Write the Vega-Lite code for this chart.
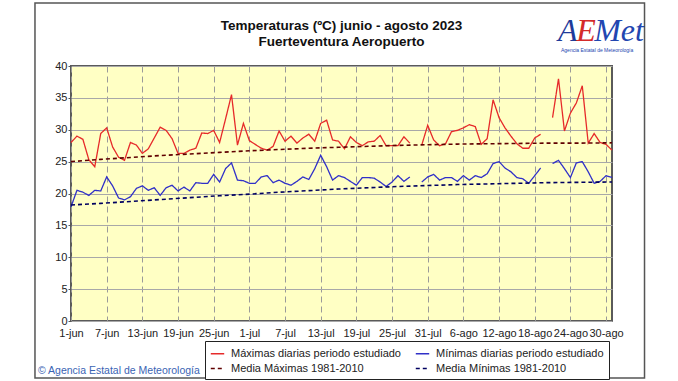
{
  "$schema": "https://vega.github.io/schema/vega-lite/v6.json",
  "width": 541,
  "height": 255,
  "autosize": {"type": "none"},
  "padding": {"left": 71, "top": 66, "right": 66, "bottom": 60},
  "background": "white",
  "config": {
    "font": "Liberation Sans",
    "view": {"fill": "#ffffc4", "stroke": "#5a5a5a", "strokeWidth": 2},
    "axis": {"labelFont": "Liberation Sans", "labelFontSize": 11, "labelColor": "#222222", "domain": false}
  },
  "title": {
    "text": ["Temperaturas (ºC) junio - agosto 2023", "Fuerteventura Aeropuerto"],
    "font": "Liberation Sans",
    "fontSize": 13.5,
    "fontWeight": "bold",
    "color": "#111111",
    "anchor": "middle",
    "frame": "group",
    "offset": -46,
    "lineHeight": 16
  },
  "layer": [
    {
      "data": {"values": [
        {"d":0,"max":28.0,"min":17.9},{"d":1,"max":29.0,"min":20.5},{"d":2,"max":28.5,"min":20.2},{"d":3,"max":25.3,"min":19.7},
        {"d":4,"max":24.2,"min":20.5},{"d":5,"max":29.4,"min":20.4},{"d":6,"max":30.3,"min":22.6},{"d":7,"max":27.3,"min":21.2},
        {"d":8,"max":25.7,"min":19.3},{"d":9,"max":25.2,"min":19.0},{"d":10,"max":28.0,"min":19.5},{"d":11,"max":27.6,"min":20.8},
        {"d":12,"max":26.3,"min":21.2},{"d":13,"max":27.0,"min":20.5},{"d":14,"max":28.7,"min":20.9},{"d":15,"max":30.4,"min":19.7},
        {"d":16,"max":29.9,"min":20.9},{"d":17,"max":28.6,"min":21.3},{"d":18,"max":26.3,"min":20.4},{"d":19,"max":26.3,"min":21.0},
        {"d":20,"max":26.8,"min":20.4},{"d":21,"max":27.1,"min":21.7},{"d":22,"max":29.5,"min":21.6},{"d":23,"max":29.4,"min":21.6},
        {"d":24,"max":29.9,"min":23.0},{"d":25,"max":28.0,"min":21.8},{"d":26,"max":31.7,"min":23.9},{"d":27,"max":35.5,"min":24.8},
        {"d":28,"max":27.6,"min":22.1},{"d":29,"max":31.0,"min":22.0},{"d":30,"max":28.3,"min":21.6},{"d":31,"max":27.7,"min":21.6},
        {"d":32,"max":27.1,"min":22.6},{"d":33,"max":26.8,"min":22.8},{"d":34,"max":27.4,"min":21.7},{"d":35,"max":29.8,"min":22.1},
        {"d":36,"max":28.2,"min":21.6},{"d":37,"max":29.0,"min":21.3},{"d":38,"max":27.9,"min":21.9},{"d":39,"max":28.7,"min":22.6},
        {"d":40,"max":29.3,"min":22.2},{"d":41,"max":28.2,"min":23.9},{"d":42,"max":31.0,"min":26.0},{"d":43,"max":31.5,"min":24.2},
        {"d":44,"max":28.4,"min":22.1},{"d":45,"max":28.2,"min":22.8},{"d":46,"max":27.0,"min":22.5},{"d":47,"max":28.9,"min":21.9},
        {"d":48,"max":28.0,"min":21.3},{"d":49,"max":27.5,"min":22.5},{"d":50,"max":28.1,"min":22.5},{"d":51,"max":28.2,"min":22.4},
        {"d":52,"max":29.1,"min":21.8},{"d":53,"max":27.5,"min":21.1},{"d":54,"max":27.5,"min":21.8},{"d":55,"max":27.5,"min":22.8},
        {"d":56,"max":28.9,"min":21.9},{"d":57,"max":27.9,"min":22.6},{"d":58,"max":null,"min":null},{"d":59,"max":27.6,"min":21.8},
        {"d":60,"max":30.7,"min":22.6},{"d":61,"max":28.4,"min":23.0},{"d":62,"max":27.5,"min":22.1},{"d":63,"max":27.8,"min":22.5},
        {"d":64,"max":29.7,"min":22.5},{"d":65,"max":29.9,"min":21.9},{"d":66,"max":30.3,"min":22.8},{"d":67,"max":30.8,"min":22.1},
        {"d":68,"max":30.5,"min":22.8},{"d":69,"max":27.7,"min":22.5},{"d":70,"max":28.6,"min":23.1},{"d":71,"max":34.7,"min":24.7},
        {"d":72,"max":31.9,"min":25.0},{"d":73,"max":30.3,"min":24.0},{"d":74,"max":29.0,"min":23.4},{"d":75,"max":27.8,"min":22.5},
        {"d":76,"max":27.1,"min":22.3},{"d":77,"max":27.1,"min":21.6},{"d":78,"max":28.7,"min":22.8},{"d":79,"max":29.3,"min":24.0},
        {"d":80,"max":null,"min":null},{"d":81,"max":31.9,"min":24.7},{"d":82,"max":38.0,"min":25.2},{"d":83,"max":29.8,"min":23.9},
        {"d":84,"max":32.6,"min":22.5},{"d":85,"max":34.2,"min":24.8},{"d":86,"max":36.9,"min":25.0},{"d":87,"max":27.9,"min":23.4},
        {"d":88,"max":29.4,"min":21.6},{"d":89,"max":28.0,"min":21.9},{"d":90,"max":27.7,"min":22.8},{"d":91,"max":26.8,"min":22.5}
      ]},
      "transform": [{"fold": ["max", "min"], "as": ["serie", "t"]}],
      "mark": {"type": "line", "strokeWidth": 1.3, "invalid": "break-paths-show-domains"},
      "encoding": {
        "x": {
          "field": "d", "type": "quantitative",
          "scale": {"domain": [0, 91], "nice": false, "zero": false},
          "axis": {
            "title": null,
            "values": [0, 6, 12, 18, 24, 30, 36, 42, 48, 54, 60, 66, 72, 78, 84, 90],
            "tickCount": 16,
            "labelExpr": "['1-jun','7-jun','13-jun','19-jun','25-jun','1-jul','7-jul','13-jul','19-jul','25-jul','31-jul','6-ago','12-ago','18-ago','24-ago','30-ago'][round(datum.value/6)]",
            "ticks": false,
            "labelPadding": 6,
            "labelFlush": false,
            "labelOverlap": false,
            "grid": true,
            "gridColor": "#9a9a9a",
            "gridDash": [6, 4],
            "gridWidth": 1
          }
        },
        "y": {
          "field": "t", "type": "quantitative",
          "scale": {"domain": [0, 40], "nice": false},
          "axis": {
            "title": null,
            "values": [0, 5, 10, 15, 20, 25, 30, 35, 40],
            "tickCount": 9,
            "tickSize": 3,
            "tickColor": "#555555",
            "labelPadding": 1,
            "labelOverlap": false,
            "grid": true,
            "gridColor": "#a8a8a8",
            "gridWidth": 1
          }
        },
        "color": {
          "field": "serie", "type": "nominal",
          "scale": {"domain": ["max", "min", "nmax", "nmin"], "range": ["#e62a2a", "#3030c8", "#600000", "#000060"]},
          "legend": {
            "title": null,
            "orient": "none",
            "legendX": 134,
            "legendY": 275,
            "columns": 2,
            "direction": "horizontal",
            "strokeColor": "#222222",
            "fillColor": "white",
            "padding": 5,
            "columnPadding": 11,
            "rowPadding": 2,
            "labelFont": "Liberation Sans",
            "labelFontSize": 11,
            "labelColor": "#222222",
            "labelLimit": 300,
            "symbolType": "stroke",
            "symbolSize": 180,
            "symbolStrokeWidth": 1.5,
            "labelOffset": 6,
            "labelExpr": "datum.label == 'max' ? 'Máximas diarias periodo estudiado' : datum.label == 'min' ? 'Mínimas diarias periodo estudiado' : datum.label == 'nmax' ? 'Media Máximas 1981-2010' : 'Media Mínimas 1981-2010'"
          }
        },
        "strokeDash": {
          "field": "serie", "type": "nominal",
          "scale": {"domain": ["max", "min", "nmax", "nmin"], "range": [[1, 0], [1, 0], [4, 3], [4, 3]]}
        }
      }
    },
    {
      "data": {"values": [
        {"d":0,"serie":"nmax","t":25.0},{"d":5,"serie":"nmax","t":25.35},{"d":10,"serie":"nmax","t":25.65},{"d":15,"serie":"nmax","t":25.95},
        {"d":20,"serie":"nmax","t":26.2},{"d":25,"serie":"nmax","t":26.45},{"d":30,"serie":"nmax","t":26.7},{"d":35,"serie":"nmax","t":26.9},
        {"d":40,"serie":"nmax","t":27.1},{"d":45,"serie":"nmax","t":27.25},{"d":50,"serie":"nmax","t":27.4},{"d":55,"serie":"nmax","t":27.55},
        {"d":60,"serie":"nmax","t":27.65},{"d":65,"serie":"nmax","t":27.75},{"d":70,"serie":"nmax","t":27.8},{"d":75,"serie":"nmax","t":27.85},
        {"d":80,"serie":"nmax","t":27.9},{"d":85,"serie":"nmax","t":27.9},{"d":91,"serie":"nmax","t":27.95},
        {"d":0,"serie":"nmin","t":18.2},{"d":5,"serie":"nmin","t":18.45},{"d":10,"serie":"nmin","t":18.75},{"d":15,"serie":"nmin","t":19.05},
        {"d":20,"serie":"nmin","t":19.35},{"d":25,"serie":"nmin","t":19.65},{"d":30,"serie":"nmin","t":19.9},{"d":35,"serie":"nmin","t":20.2},
        {"d":40,"serie":"nmin","t":20.45},{"d":45,"serie":"nmin","t":20.7},{"d":50,"serie":"nmin","t":20.9},{"d":55,"serie":"nmin","t":21.1},
        {"d":60,"serie":"nmin","t":21.25},{"d":65,"serie":"nmin","t":21.4},{"d":70,"serie":"nmin","t":21.5},{"d":75,"serie":"nmin","t":21.6},
        {"d":80,"serie":"nmin","t":21.7},{"d":85,"serie":"nmin","t":21.75},{"d":91,"serie":"nmin","t":21.8}
      ]},
      "mark": {"type": "line", "strokeWidth": 1.6},
      "encoding": {
        "x": {"field": "d", "type": "quantitative"},
        "y": {"field": "t", "type": "quantitative"},
        "color": {"field": "serie", "type": "nominal"},
        "strokeDash": {"field": "serie", "type": "nominal"}
      }
    },
    {
      "data": {"values": [{}]},
      "mark": {"type": "rect", "filled": false, "stroke": "#555555", "strokeWidth": 1.5},
      "encoding": {
        "x": {"datum": -6.06, "type": "quantitative"},
        "x2": {"datum": 96.47},
        "y": {"datum": 49.88, "type": "quantitative"},
        "y2": {"datum": -8.94}
      }
    },
    {
      "data": {"values": [{}]},
      "mark": {"type": "text", "text": "A", "font": "Liberation Serif", "fontStyle": "italic", "fontSize": 32, "color": "#1f3b9a", "align": "left", "baseline": "alphabetic"},
      "encoding": {
        "x": {"datum": 81.9, "type": "quantitative"},
        "y": {"datum": 44.0, "type": "quantitative"}
      }
    },
    {
      "data": {"values": [{}]},
      "mark": {"type": "text", "text": "E", "font": "Liberation Serif", "fontStyle": "italic", "fontSize": 32, "color": "#d42a2a", "align": "left", "baseline": "alphabetic"},
      "encoding": {
        "x": {"datum": 85.0, "type": "quantitative"},
        "y": {"datum": 44.0, "type": "quantitative"}
      }
    },
    {
      "data": {"values": [{}]},
      "mark": {"type": "text", "text": "Met", "font": "Liberation Serif", "fontStyle": "italic", "fontSize": 32, "color": "#2246b0", "align": "left", "baseline": "alphabetic"},
      "encoding": {
        "x": {"datum": 88.0, "type": "quantitative"},
        "y": {"datum": 44.0, "type": "quantitative"}
      }
    },
    {
      "data": {"values": [{}]},
      "mark": {"type": "text", "text": "Agencia Estatal de Meteorología", "font": "Liberation Sans", "fontSize": 5, "color": "#2246b0", "align": "center", "baseline": "middle"},
      "encoding": {
        "x": {"datum": 88.5, "type": "quantitative"},
        "y": {"datum": 42.5, "type": "quantitative"}
      }
    },
    {
      "data": {"values": [{}]},
      "mark": {"type": "text", "text": "© Agencia Estatal de Meteorología", "font": "Liberation Sans", "fontSize": 10.5, "color": "#3a64b4", "align": "left", "baseline": "alphabetic"},
      "encoding": {
        "x": {"datum": -5.55, "type": "quantitative"},
        "y": {"datum": -8.3, "type": "quantitative"}
      }
    }
  ]
}
